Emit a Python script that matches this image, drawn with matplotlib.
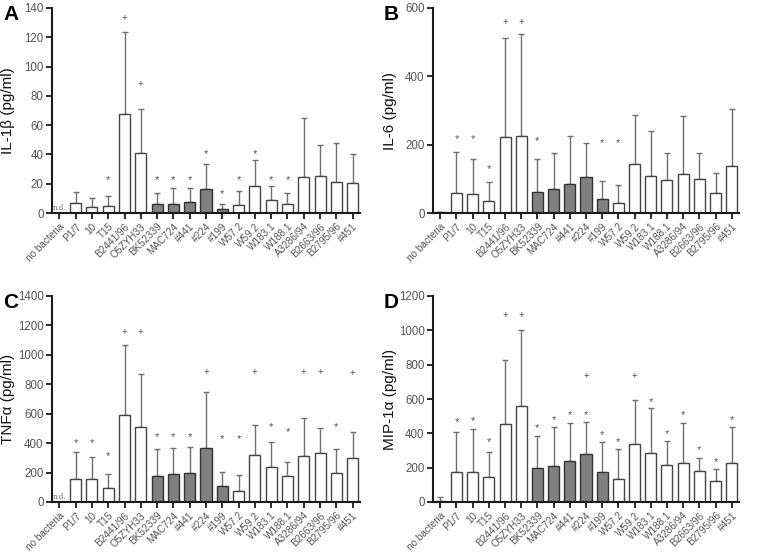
import numpy as np
import matplotlib
matplotlib.use("Agg")
import matplotlib.pyplot as plt

plt.rcParams['font.family'] = ['Liberation Sans', 'DejaVu Sans']

strains = ['no bacteria', 'P1/7', '10', 'T15', 'B2441/96', 'O5ZYH33', 'BK52339',
           'MAC724', '#441', '#224', '#199', 'W57.2', 'W59.2', 'W183.1', 'W188.1',
           'A3286/94', 'B2663/96', 'B2795/96', '#451']
gray_idx = [6, 7, 8, 9, 10]
nan = np.nan

# IL-1b
il1b = [nan, 6.8, 4.0, 4.5, 67.7, 41.0, 5.9, 6.3, 7.5, 16.3, 2.5, 5.2, 18.3, 8.6, 6.3, 24.5, 25.4, 21.3, 20.8]
il1b_err = [nan, 14.5, 10.4, 11.3, 123.5, 71.0, 13.4, 16.8, 17.2, 33.8, 5.9, 15.0, 36.5, 18.1, 14.0, 64.6, 46.7, 48.0, 40.6]
il1b_star = [nan, nan, nan, 22.5, nan, nan, 22.5, 22.5, 22.5, 40.5, 13, 22.5, 40.5, 22.5, 22.5, nan, nan, nan, nan]
il1b_plus = [nan, nan, nan, nan, 133, 88, nan, nan, nan, nan, nan, nan, nan, nan, nan, nan, nan, nan, nan]

# IL-6
il6 = [3, 60, 55, 35, 222, 226, 62, 70, 86, 105, 40, 30, 143, 107, 96, 114, 100, 58, 137]
il6_err = [3, 180, 157, 92, 513, 525, 158, 176, 225, 206, 93, 83, 288, 241, 175, 283, 176, 118, 303]
il6_star = [nan, 217, 217, 130, nan, nan, 211, nan, nan, nan, 206, 206, nan, nan, nan, nan, nan, nan, nan]
il6_plus = [nan, nan, nan, nan, 560, 560, nan, nan, nan, nan, nan, nan, nan, nan, nan, nan, nan, nan, nan]

# TNFa
tnf = [nan, 153, 153, 97, 590, 513, 177, 192, 200, 368, 112, 78, 318, 235, 175, 310, 330, 200, 298]
tnf_err = [nan, 338, 308, 190, 1070, 868, 362, 370, 376, 750, 205, 182, 520, 405, 273, 570, 505, 360, 473]
tnf_star = [nan, 400, 400, 310, nan, nan, 440, 440, 440, nan, 430, 430, nan, 510, 472, nan, nan, 512, nan]
tnf_plus = [nan, nan, nan, nan, 1155, 1155, nan, nan, nan, 885, nan, nan, 885, nan, nan, 885, 885, nan, 878]

# MIP-1a
mip = [5, 175, 172, 143, 455, 557, 200, 212, 238, 277, 177, 132, 337, 283, 213, 230, 182, 123, 228]
mip_err = [30, 405, 425, 293, 825, 1000, 383, 438, 458, 468, 352, 307, 592, 547, 353, 462, 258, 195, 438]
mip_star = [nan, 468, 474, 351, nan, nan, 431, 478, 507, 507, 390, 348, nan, 584, 396, 507, 305, 235, 478]
mip_plus = [nan, nan, nan, nan, 1089, 1089, nan, nan, nan, 732, nan, nan, 732, nan, nan, nan, nan, nan, nan]

W, H = 762, 560
fig = plt.figure(figsize=(W / 100, H / 100), dpi=100)


def panel(rect, vals, errs, stars, pluses, ymax, ystep, ylabel, letter, label_x, nd=False):
    l, t, r, b = rect
    ax = fig.add_axes([l / W, 1 - b / H, (r - l) / W, (b - t) / H])
    x = np.arange(len(strains))
    vals = np.array(vals, dtype=float)
    errs = np.array(errs, dtype=float)
    face = ['#808080' if i in gray_idx else 'white' for i in x]
    edge = ['#333333' if i in gray_idx else '#444444' for i in x]
    if not nd:
        face[0] = '#222222'
    ax.bar(x, np.nan_to_num(vals), width=0.68, color=face, edgecolor=edge,
           linewidth=1.0, zorder=2)
    ax.errorbar(x, vals, yerr=[np.zeros(len(x)), errs - vals], fmt='none',
                ecolor='#707070', elinewidth=1.0, capsize=2.2, capthick=1.0, zorder=1)
    for i in x:
        if not np.isnan(stars[i]):
            ax.text(i, stars[i], '*', ha='center', va='center', fontsize=8, color='#555555')
        if not np.isnan(pluses[i]):
            ax.text(i, pluses[i], '+', ha='center', va='center', fontsize=7, color='#555555')
    if nd:
        ax.text(0, ymax * 0.004, 'n.d.', ha='center', va='bottom', fontsize=5,
                color='#666666', family='DejaVu Serif')
    ax.set_xlim(-0.45, len(strains) - 1 + 0.45)
    ax.set_ylim(0, ymax)
    ax.set_yticks(np.arange(0, ymax + 1, ystep))
    ax.set_xticks(x)
    ax.set_xticklabels(strains, rotation=45, ha='right', rotation_mode='anchor')
    for s in ['top', 'right']:
        ax.spines[s].set_visible(False)
    for s in ['left', 'bottom']:
        ax.spines[s].set_linewidth(1.5)
        ax.spines[s].set_color('#1a1a1a')
    ax.tick_params(axis='both', direction='out', length=4, width=1.3, color='#1a1a1a',
                   labelcolor='#555555', pad=2)
    ax.tick_params(axis='y', labelsize=8.3)
    ax.tick_params(axis='x', labelsize=7.2)
    ax.set_ylabel(ylabel, fontsize=11, color='#111111')
    ax.yaxis.set_label_coords((label_x - l) / (r - l), 0.5)
    fig.text((l - 49) / W, 1 - (t + 7) / H, letter, fontsize=15, fontweight='bold',
             va='center', ha='left')
    return ax


panel((52, 8, 360, 213), il1b, il1b_err, il1b_star, il1b_plus, 140, 20, 'IL-1β (pg/ml)', 'A', 15, nd=True)
panel((433, 8, 739, 213), il6, il6_err, il6_star, il6_plus, 600, 200, 'IL-6 (pg/ml)', 'B', 397)
panel((52, 296, 360, 502), tnf, tnf_err, tnf_star, tnf_plus, 1400, 200, 'TNFα (pg/ml)', 'C', 15, nd=True)
panel((433, 296, 739, 502), mip, mip_err, mip_star, mip_plus, 1200, 200, 'MIP-1α (pg/ml)', 'D', 397)

fig.savefig('out.png', dpi=100)
